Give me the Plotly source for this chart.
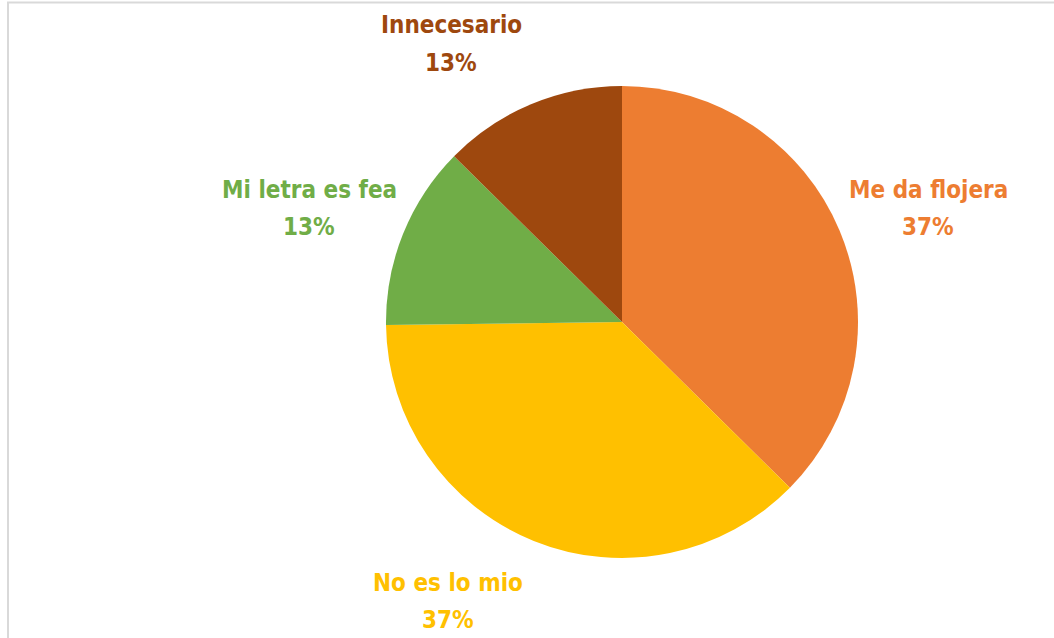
import plotly.graph_objects as go

categories = ["Me da flojera", "No es lo mio", "Mi letra es fea", "Innecesario"]
values = [37.4, 37.4, 12.6, 12.6]
pct_labels = ["37%", "37%", "13%", "13%"]
colors = ["#ED7D31", "#FFC000", "#70AD47", "#9E480E"]

W, H = 1054, 638
FONT = "Liberation Sans Narrow, DejaVu Sans Condensed, Arial Narrow, sans-serif"

fig = go.Figure()
fig.add_trace(go.Pie(
    labels=categories,
    values=values,
    sort=False,
    direction="clockwise",
    rotation=0,
    marker=dict(colors=colors, line=dict(width=0)),
    textinfo="none",
    hoverinfo="label+percent",
    showlegend=False,
    domain=dict(x=[(622 - 236) / W, (622 + 236) / W],
                y=[(H - 322 - 236) / H, (H - 322 + 236) / H]),
))

# label positions (pixel centers of name line and percent line)
label_pos = [(928, 190, 227), (448, 583, 620), (309, 190, 227), (451, 25, 63)]
for cat, pct, col, (px, py1, py2) in zip(categories, pct_labels, colors, label_pos):
    for txt, py in ((cat, py1), (pct, py2)):
        fig.add_annotation(
            x=px / W, y=1 - py / H, xref="paper", yref="paper",
            text=f"<b>{txt}</b>", showarrow=False,
            xanchor="center", yanchor="middle",
            font=dict(family=FONT, size=24, color=col),
        )

# chart-area frame (only top and left edges visible in the crop)
fig.add_shape(type="line", xref="paper", yref="paper",
              x0=7 / W, x1=1, y0=1 - 2.5 / H, y1=1 - 2.5 / H,
              line=dict(color="#D9D9D9", width=2))
fig.add_shape(type="line", xref="paper", yref="paper",
              x0=8 / W, x1=8 / W, y0=0, y1=1 - 2.5 / H,
              line=dict(color="#D9D9D9", width=2))

fig.update_layout(
    width=W, height=H,
    margin=dict(l=0, r=0, t=0, b=0),
    paper_bgcolor="white", plot_bgcolor="white",
)

fig.write_html("out.html", config={"displayModeBar": False},
               post_script="document.body.style.margin='0';document.body.style.overflow='hidden';")
